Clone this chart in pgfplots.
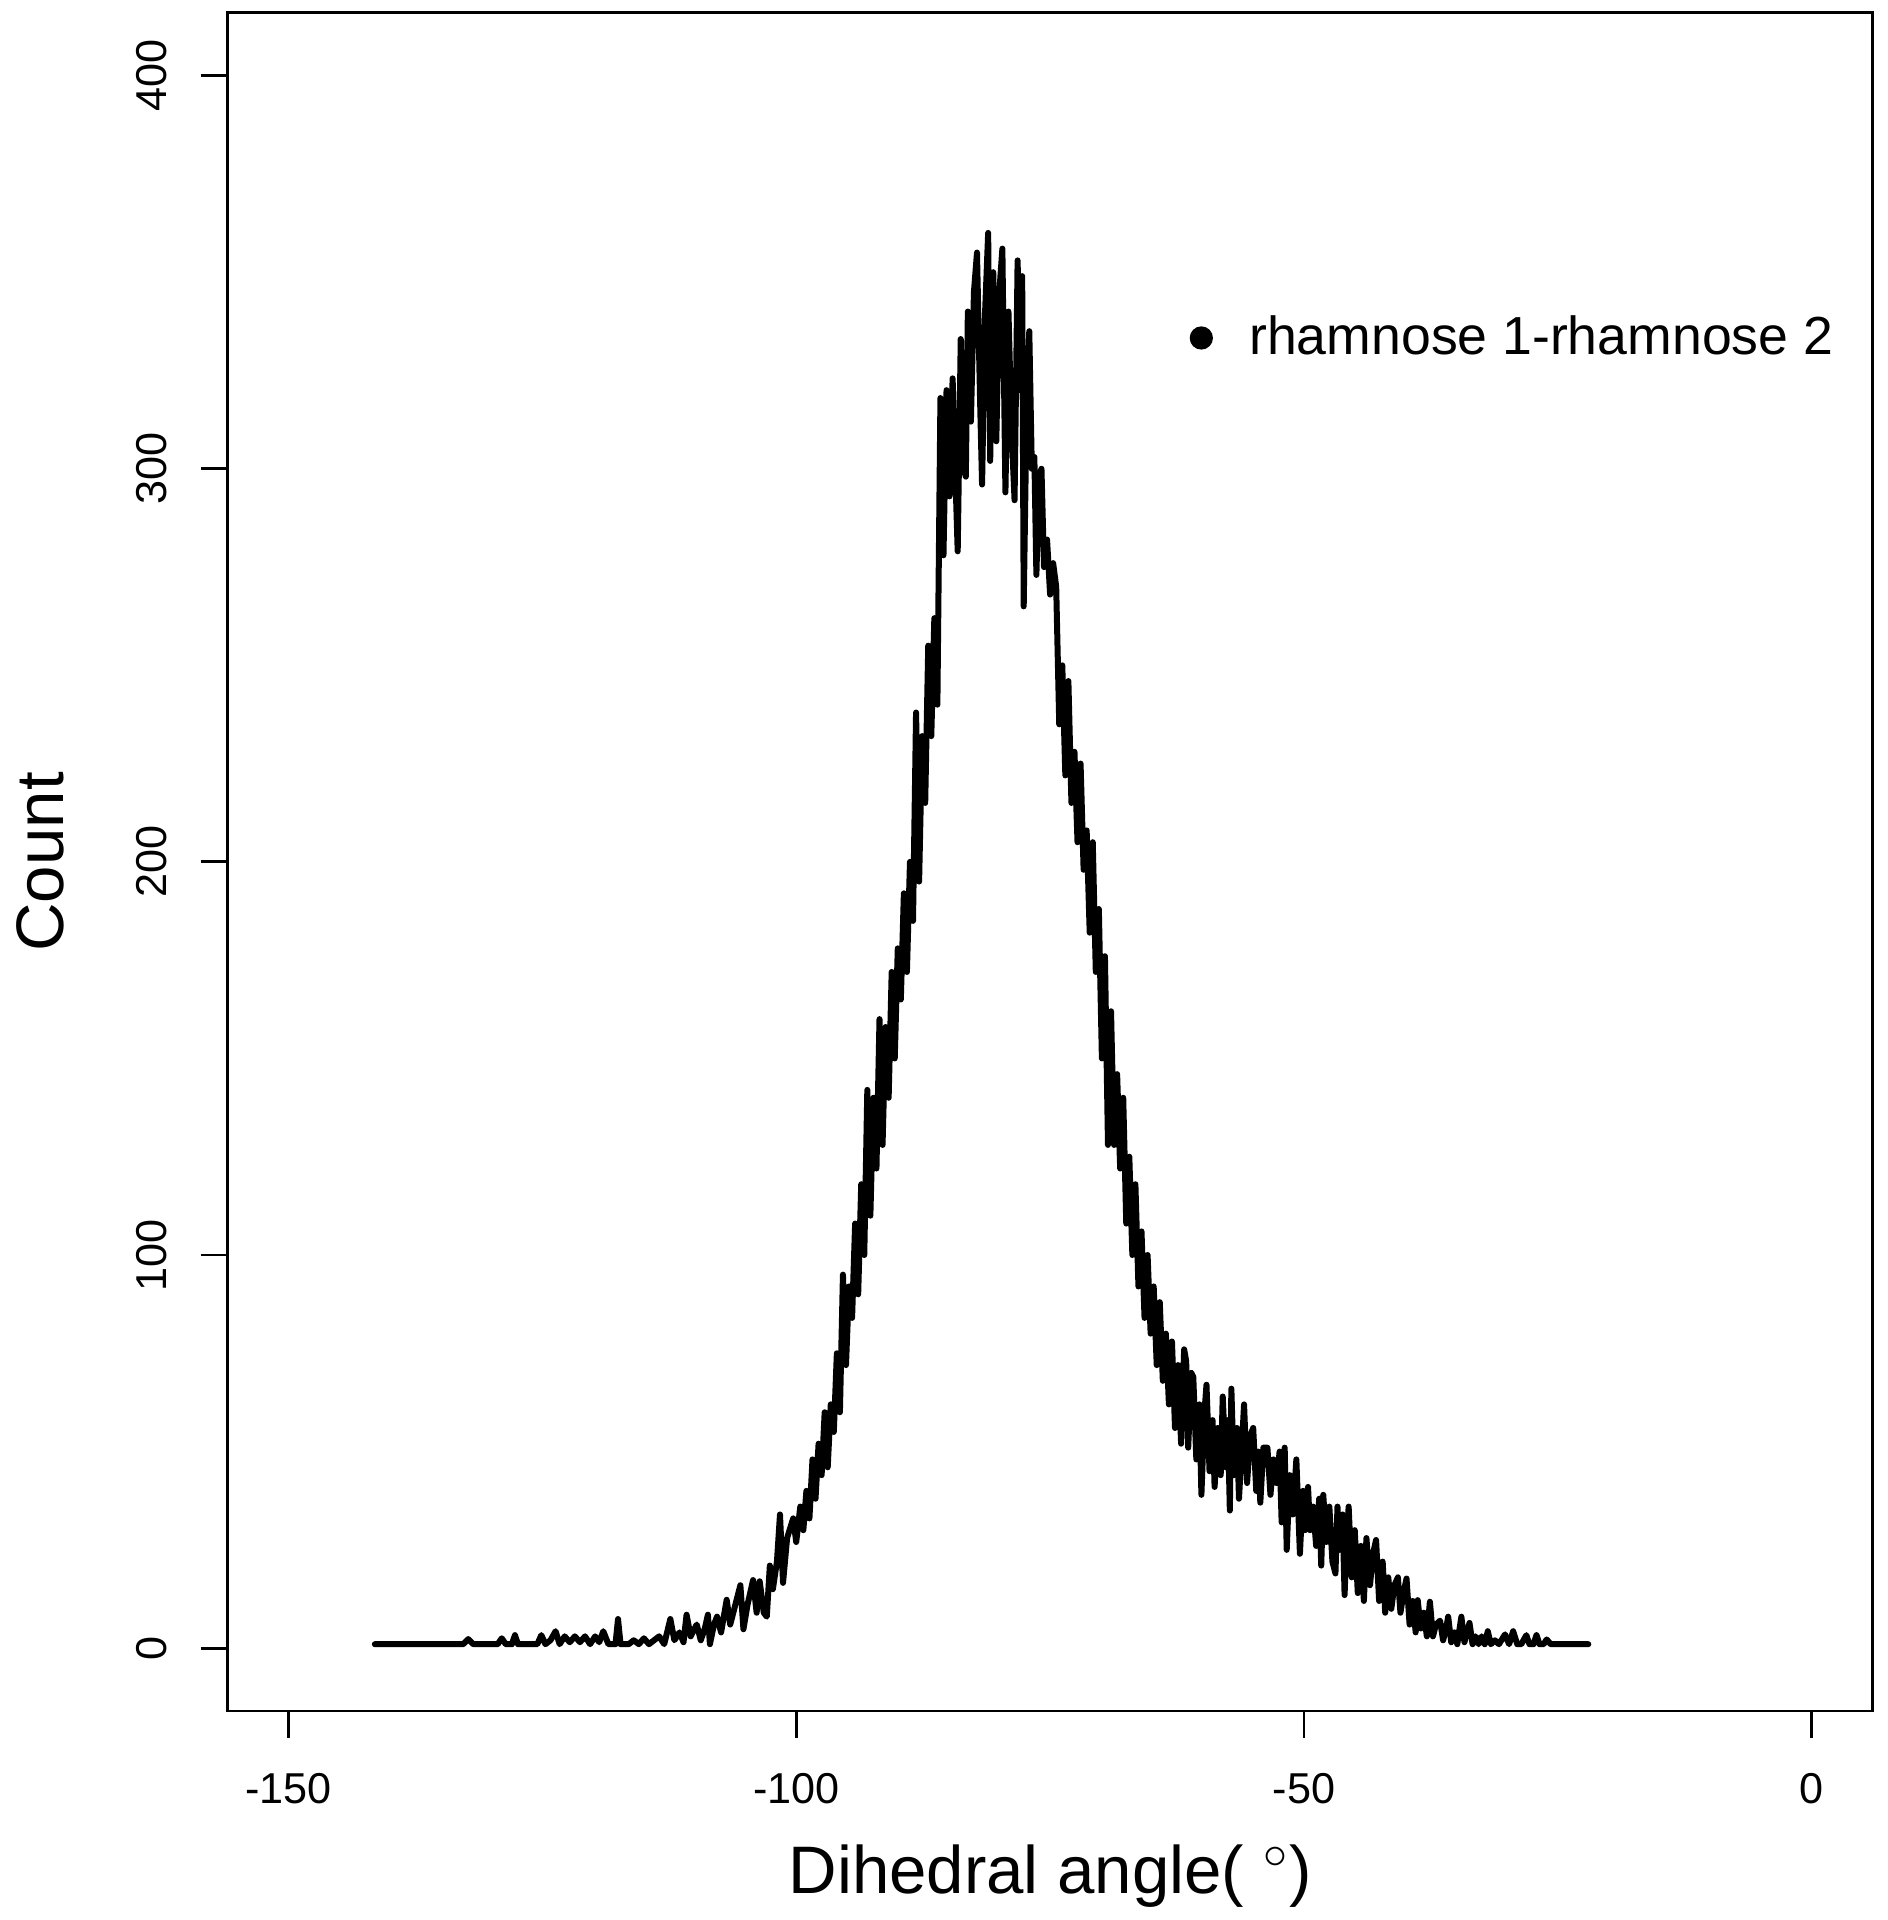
\documentclass[border=0pt]{standalone}
\usepackage{fontspec}
\setmainfont{Liberation Sans}
\usepackage{pgfplots}
\pgfplotsset{compat=1.18}

\begin{document}
\begin{tikzpicture}
\begin{axis}[
  scale only axis, width=411.3pt, height=424.6pt,
  xmin=-156, xmax=6, ymin=-16, ymax=416,
  axis line style={line width=0.7pt},
  every tick/.style={black, line width=0.7pt},
  tick align=outside, major tick length=6.75pt,
  tick pos=left,
  xtick={-150,-100,-50,0}, xticklabels={-150,-100,-50,0},
  ytick={0,100,200,300,400}, yticklabels={0,100,200,300,400},
  xticklabel style={anchor=north, inner sep=0pt, font=\fontsize{10.8}{13}\selectfont},
  xticklabel shift=8.75pt,
  yticklabel style={rotate=90, anchor=south, inner sep=0pt, font=\fontsize{10.8}{13}\selectfont},
  yticklabel shift=8.25pt,
  xlabel={Dihedral angle( $^{\circ}$)}, ylabel={Count},
  label style={font=\fontsize{16.8}{20}\selectfont},
  xlabel style={at={(axis description cs:0.5,-0.1077)}, anchor=base},
  ylabel style={at={(axis description cs:-0.0997,0.5)}, anchor=base},
  legend style={draw=none, fill=none, at={(axis description cs:0.5844,0.8085)}, anchor=west,
    inner sep=0pt, nodes={inner sep=0pt}, font=\fontsize{13.4}{16}\selectfont},
  legend cell align=left,
]
% left tail and rise
\addplot[black, line width=1.5pt, line join=round, line cap=round, forget plot] coordinates {
(-141.5,1) (-132.8,1) (-132.3,2.3) (-131.8,1) (-129.4,1) (-129.0,2.5) (-128.6,1) (-128.0,1)
(-127.7,3.3) (-127.4,1) (-125.5,1) (-125.1,3.3) (-124.7,1) (-124.2,2) (-123.7,4.3) (-123.3,1)
(-122.8,3) (-122.3,1.5) (-121.8,3) (-121.3,1.5) (-120.8,3) (-120.3,1) (-119.8,3) (-119.4,1.5)
(-119.0,4.3) (-118.5,1) (-117.8,1) (-117.55,7.4) (-117.3,1) (-116.5,1) (-116.0,2) (-115.5,1)
(-115.0,2.5) (-114.5,1) (-114.0,2) (-113.5,3) (-113.0,1) (-112.4,7.4) (-112.0,2) (-111.5,4)
(-111.1,1.5) (-110.8,8.5) (-110.4,3) (-109.8,6) (-109.4,2) (-109.0,5) (-108.7,8.5) (-108.5,1)
(-108.1,6) (-107.8,8) (-107.4,4) (-106.85,12.3) (-106.5,6) (-106.1,10) (-105.5,16) (-105.2,4.8)
(-104.8,11) (-104.25,17.3) (-103.9,9) (-103.6,17) (-103.2,9) (-102.9,8) (-102.6,21) (-102.3,15)
(-101.9,22) (-101.6,34) (-101.3,16.6) (-100.9,28) (-100.3,33) (-100.0,27) (-99.6,36) (-99.3,30)
(-99.0,40) (-98.7,33) (-98.4,48) (-98.1,38) (-97.8,52) (-97.5,44) (-97.2,60) (-96.9,46)
(-96.6,62) (-96.3,55) (-96.0,75) (-95.7,60) (-95.4,95) (-95.1,72) (-94.8,92) (-94.5,84)
(-94.2,108) (-93.9,90) (-93.6,118) (-93.3,100) (-93.0,142) (-92.7,110) (-92.4,140) (-92.1,122)
(-91.8,160) (-91.5,128) (-91.2,158) (-90.9,140) (-90.6,172) (-90.3,150) (-90.0,178) (-89.7,165)
(-89.4,192) (-89.1,172) (-88.8,200) (-88.5,185) (-88.2,238) (-87.9,195) (-87.6,232) (-87.3,215)
(-87.0,255) (-86.7,232) (-86.4,262) (-86.1,240) (-85.8,318) (-85.5,278) (-85.2,320) (-84.9,293)
(-84.6,323) (-84.3,296) (-84.1,279) (-83.8,333) (-83.5,300) (-83.3,298) (-83.1,340) (-82.8,312)
(-82.5,345) (-82.2,355) (-81.9,318) (-81.7,296) (-81.4,340) (-81.1,360) (-80.9,302) (-80.6,350)
(-80.3,307) (-80.0,345) (-79.7,356) (-79.4,294) (-79.1,340) (-78.8,310) (-78.5,292) (-78.2,353)
(-77.95,320) (-77.75,349) (-77.6,265) (-77.3,318) (-77.05,335) (-76.8,300) (-76.55,303) (-76.35,273)
(-76.1,298) (-75.85,300) (-75.6,275) (-75.3,282) (-75.0,268) (-74.7,276) (-74.4,270) (-74.1,235)
(-73.8,250) (-73.5,222) (-73.2,246) (-72.9,215) (-72.6,228) (-72.3,205) (-72.0,225) (-71.7,198)
(-71.4,208) (-71.1,182) (-70.8,205) (-70.5,172) (-70.2,188) (-69.9,150) (-69.6,176) (-69.3,128)
(-69.0,162) (-68.7,128) (-68.4,146) (-68.1,122) (-67.8,140) (-67.5,108) (-67.2,125) (-66.9,100)
(-66.6,118) (-66.3,92) (-66.0,106) (-65.7,84) (-65.4,100) (-65.1,80) (-64.8,92) (-64.5,72)
(-64.2,88) (-63.9,68) (-63.6,80) (-63.3,62) (-63.0,78) (-62.7,56) (-62.4,72) (-62.1,52)
(-61.8,76) (-61.6,73) (-61.4,51) (-61.1,70) (-60.9,69) (-60.6,48) (-60.3,62) (-60.1,39)
(-59.8,60) (-59.6,67) (-59.3,45) (-59.0,58) (-58.8,41) (-58.5,56) (-58.2,44) (-58.0,64)
(-57.7,46) (-57.5,58) (-57.3,35) (-57.15,66) (-56.9,44) (-56.6,56) (-56.4,38) (-56.1,52)
(-55.9,62) (-55.6,42) (-55.3,54) (-55.0,56) (-54.7,40) (-54.5,50) (-54.3,37) (-54.0,51)
(-53.6,51) (-53.3,39) (-53.0,48) (-52.7,42) (-52.4,50) (-52.2,32) (-51.9,51) (-51.7,25)
(-51.4,44) (-51.1,34) (-50.75,48) (-50.4,24) (-50.1,40) (-49.9,30) (-49.6,41) (-49.4,30)
(-49.1,36) (-48.8,26) (-48.5,38) (-48.3,21) (-48.1,39) (-47.8,27) (-47.5,36) (-47.2,22)
(-46.9,19) (-46.7,36) (-46.5,25) (-46.2,34) (-46.0,13.5) (-45.8,28) (-45.6,36) (-45.3,18)
(-45.0,30) (-44.7,14) (-44.4,26) (-44.1,12) (-43.85,28) (-43.5,16) (-43.2,24) (-42.9,27.5)
(-42.6,12) (-42.25,22) (-42.0,9) (-41.7,18) (-41.4,10) (-41.1,16) (-40.75,18) (-40.5,9)
(-40.2,14) (-39.9,17.7) (-39.6,6) (-39.3,12) (-39.0,4) (-38.8,12.2) (-38.5,5) (-38.2,9)
(-37.9,3) (-37.6,11.8) (-37.3,3) (-37.0,6) (-36.6,7) (-36.3,2) (-36.0,5) (-35.8,8)
(-35.5,1.5) (-35.2,4) (-34.9,1) (-34.5,8) (-34.2,1.5) (-33.7,6.4) (-33.4,1) (-33.1,3)
(-32.8,1) (-32.5,3) (-32.2,1) (-31.9,4.3) (-31.6,1) (-31.2,2) (-30.8,1) (-30.2,3.5)
(-29.8,1) (-29.4,4.3) (-29.0,1) (-28.6,1) (-28.1,3.3) (-27.8,1) (-27.4,1) (-27.1,3.3)
(-26.8,1) (-26.4,1) (-26.1,2.2) (-25.7,1) (-22.0,1)
};
\addlegendimage{black, legend image code/.code={\fill (0pt,0pt) circle (2.7pt); \path[draw=none] (-2.7pt,0pt) -- (12pt,0pt);}}
\addlegendentry{rhamnose 1-rhamnose 2}
\coordinate (sw) at (rel axis cs:0,0);
\coordinate (ne) at (rel axis cs:1,1);
\end{axis}
\pgfresetboundingbox
\path[use as bounding box] ([shift={(-56.9pt,-52.25pt)}]sw) rectangle ([shift={(3.75pt,3.2pt)}]ne);
\end{tikzpicture}
\end{document}
